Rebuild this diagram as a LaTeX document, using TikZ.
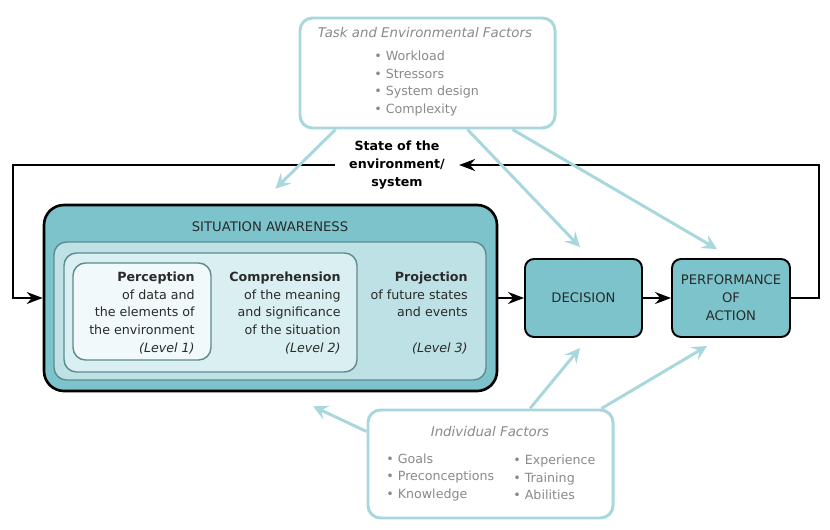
\documentclass[tikz,border=0pt]{standalone}
\usepackage{fontspec}
\setmainfont{DejaVu Sans}
\usetikzlibrary{arrows.meta}
\definecolor{tealbox}{HTML}{7CC3CB}
\definecolor{projfill}{HTML}{BEE1E5}
\definecolor{compfill}{HTML}{DAEFF1}
\definecolor{percfill}{HTML}{F1F9FA}
\definecolor{innerline}{HTML}{5C8B90}
\definecolor{faint}{HTML}{A8D8DD}
\definecolor{greytext}{HTML}{8A8A8A}
\definecolor{darktext}{HTML}{2A2A2A}
\tikzset{
    outerbox/.style = {rectangle, rounded corners=0.4cm, line width=1.5pt, draw=black, fill=tealbox},
    levelbox/.style = {rectangle, rounded corners=0.25cm, line width=0.8pt, draw=innerline},
    stepbox/.style = {rectangle, rounded corners=0.18cm, line width=1.1pt, draw=black, fill=tealbox, align=center, text=darktext},
    factorbox/.style = {rectangle, rounded corners=0.25cm, line width=1.7pt, draw=faint, fill=white},
    factortext/.style = {text=greytext, align=left},
    factortitle/.style = {text=greytext, font=\fontsize{7.6}{10}\selectfont\itshape},
    leveltext/.style = {anchor=east, align=right, text=darktext, inner sep=0pt},
    flow/.style = {-{Stealth[length=0.32cm,width=0.24cm]}, line width=1pt, black},
    influence/.style = {-{Stealth[length=0.3cm,width=0.3cm,inset=0.12cm]}, line width=1.7pt, faint}
}

\begin{document}
\begin{tikzpicture}[font=\fontsize{7.2}{10}\selectfont]
\useasboundingbox (0,0) rectangle (16.6,-10.6);
%
\node[factorbox, minimum width=5.1cm, minimum height=2.2cm] at (8.55,-1.46) (task) {};
\node[factortitle] at (8.5,-0.66) (tasktitle) {Task and Environmental Factors};
\node[factortext, anchor=west, inner xsep=0pt] at (7.48,-1.67) (tasklist) {• Workload\\• Stressors\\• System design\\• Complexity};
%
\node[factorbox, minimum width=4.9cm, minimum height=2.16cm] at (9.81,-9.28) (indiv) {};
\node[factortitle] at (9.8,-8.64) (indivtitle) {Individual Factors};
\node[factortext, anchor=west, inner xsep=0pt] at (7.72,-9.55) (indivleft) {• Goals\\• Preconceptions\\• Knowledge};
\node[factortext, anchor=west, inner xsep=0pt] at (10.26,-9.55) (indivright) {• Experience\\• Training\\• Abilities};
%
\node[outerbox, minimum width=9.06cm, minimum height=3.72cm] at (5.41,-5.96) (sa) {};
\node[text=darktext, font=\fontsize{7.5}{10}\selectfont] at (5.4,-4.54) (satitle) {SITUATION AWARENESS};
\node[levelbox, fill=projfill, minimum width=8.64cm, minimum height=2.76cm] at (5.40,-6.22) (proj) {};
\node[levelbox, fill=compfill, minimum width=5.86cm, minimum height=2.38cm] at (4.21,-6.25) (comp) {};
\node[levelbox, fill=percfill, minimum width=2.76cm, minimum height=1.94cm] at (2.84,-6.23) (perc) {};
%
\node[leveltext] at (3.90,-6.26) (perctext) {\textbf{Perception}\\of data and\\the elements of\\the environment\\\textit{(Level 1)}};
\node[leveltext] at (6.82,-6.26) (comptext) {\textbf{Comprehension}\\of the meaning\\and significance\\of the situation\\\textit{(Level 2)}};
\node[leveltext] at (9.36,-6.26) (projtext) {\textbf{Projection}\\of future states\\and events\\\mbox{}\\\textit{(Level 3)}};
%
\node[stepbox, font=\fontsize{7.5}{10.2}\selectfont, minimum width=2.34cm, minimum height=1.56cm] at (11.67,-5.96) (decision) {DECISION};
\node[stepbox, font=\fontsize{7.5}{10.2}\selectfont, minimum width=2.36cm, minimum height=1.56cm] at (14.62,-5.96) (perf) {PERFORMANCE\\OF\\ACTION};
%
\node[align=center, font=\fontsize{7.2}{10}\selectfont\bfseries, inner xsep=0.28cm] at (7.94,-3.3) (state) {State of the\\environment/\\system};
%
\draw[flow] (sa) -- (decision);
\draw[flow] (decision) -- (perf);
\draw[flow] (perf.east) -- ++(0.56,0) |- (state.east);
\draw[flow] (state.west) -| ([xshift=-0.6cm]sa.west) -- (sa.west);
%
\draw[influence] ([xshift=0.74cm]task.south west) -- ([xshift=0.1cm,yshift=0.3cm]sa.north);
\draw[influence] ([xshift=0.8cm]task.south) -- ([xshift=-0.07cm,yshift=0.22cm]decision.north);
\draw[influence] ([xshift=1.7cm]task.south) -- ([xshift=-0.28cm,yshift=0.18cm]perf.north);
\draw[influence] ([yshift=-0.46cm]indiv.north west) -- ([xshift=0.85cm,yshift=-0.28cm]sa.south);
\draw[influence] ([xshift=0.79cm]indiv.north) -- ([xshift=-0.07cm,yshift=-0.2cm]decision.south);
\draw[influence] ([xshift=-0.26cm]indiv.north east) -- ([xshift=-0.48cm,yshift=-0.16cm]perf.south);

\end{tikzpicture}
\end{document}
